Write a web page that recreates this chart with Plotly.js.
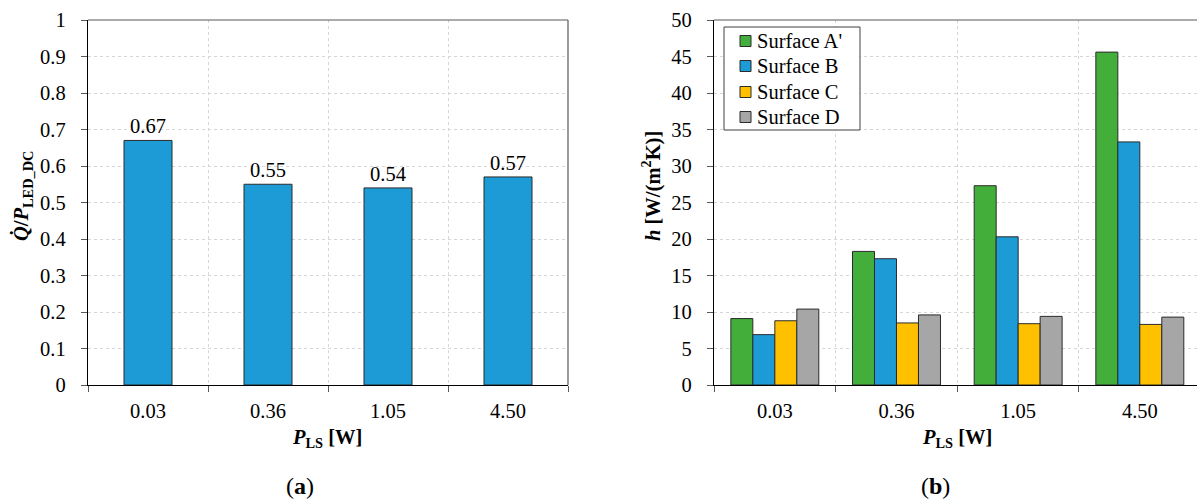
<!DOCTYPE html>
<html>
<head>
<meta charset="utf-8">
<script src="https://cdn.plot.ly/plotly-3.0.1.min.js"></script>
<style>
  html, body { margin: 0; padding: 0; background: #ffffff; }
  #chart { width: 1197px; height: 503px; }
</style>
</head>
<body>
<div id="chart"></div>
<script>
// Source power levels (shared category axis of both panels)
const categories = ['0.03', '0.36', '1.05', '4.50'];

// Panel (a): heat-to-LED power ratio
const heatRatio = [0.67, 0.55, 0.54, 0.57];

// Panel (b): heat transfer coefficient per surface, W/(m²K)
const surfaceA = [9.1, 18.3, 27.3, 45.6];
const surfaceB = [6.9, 17.3, 20.3, 33.3];
const surfaceC = [8.8, 8.5, 8.4, 8.3];
const surfaceD = [10.4, 9.6, 9.4, 9.3];

const seriesNames = ["Surface A'", 'Surface B', 'Surface C', 'Surface D'];

const W = 1197, H = 503;
const px = v => v / W;
const py = v => 1 - v / H;

const FONT = '"Liberation Serif", "Times New Roman", Times, serif';
const fs = 20.5;
const barLine = { color: '#2b2b2b', width: 1 };
const colors = ['#43AE3A', '#1C9BD6', '#FFC000', '#A6A6A6'];

const traces = [
  {
    type: 'bar', x: categories, y: heatRatio, xaxis: 'x', yaxis: 'y',
    width: 0.4,
    marker: { color: '#1C9BD6', line: barLine },
    text: heatRatio.map(v => v.toFixed(2)), textposition: 'outside',
    textfont: { family: FONT, size: fs, color: '#000' },
    cliponaxis: false, showlegend: false, hoverinfo: 'skip'
  }
];
[surfaceA, surfaceB, surfaceC, surfaceD].forEach((vals, i) => {
  traces.push({
    type: 'bar', x: categories, y: vals, xaxis: 'x2', yaxis: 'y2',
    name: seriesNames[i], showlegend: false,
    marker: { color: colors[i], line: barLine },
    hoverinfo: 'skip'
  });
});

const yDom = [(H - 385) / H, (H - 20) / H];

const xCommon = {
  type: 'category', tickson: 'boundaries', ticks: 'outside', ticklen: 6,
  tickcolor: '#595959', tickwidth: 1, ticklabelstandoff: 7,
  showline: true, linecolor: '#000', linewidth: 1.2,
  showgrid: true, gridcolor: '#d6d6d6', griddash: '3px,3px', gridwidth: 1,
  tickfont: { family: FONT, size: fs, color: '#000' },
  fixedrange: true, automargin: false, zeroline: false
};
const yCommon = {
  ticks: 'outside', ticklen: 6, tickcolor: '#595959', tickwidth: 1, ticklabelstandoff: 11,
  showline: true, linecolor: '#000', linewidth: 1.2,
  showgrid: true, gridcolor: '#d6d6d6', griddash: '3px,3px', gridwidth: 1,
  zeroline: false, tickfont: { family: FONT, size: fs, color: '#000' },
  fixedrange: true, automargin: false
};

const frame = { color: '#595959', width: 1.2 };

// Legend box for panel (b): swatch + label per surface
const legendBox = { x0: 724, x1: 860, y0: 27, y1: 130 };
const legendRows = [41, 66, 92, 117];
const legendShapes = [
  { type: 'rect', xref: 'paper', yref: 'paper',
    x0: px(legendBox.x0), x1: px(legendBox.x1), y0: py(legendBox.y0), y1: py(legendBox.y1),
    fillcolor: '#ffffff', line: { color: '#404040', width: 1 } }
];
const legendLabels = [];
seriesNames.forEach((name, i) => {
  const cy = legendRows[i];
  legendShapes.push({
    type: 'rect', xref: 'paper', yref: 'paper',
    x0: px(740), x1: px(751), y0: py(cy - 5.5), y1: py(cy + 5.5),
    fillcolor: colors[i], line: { color: '#2b2b2b', width: 1 }
  });
  legendLabels.push({
    text: name, xref: 'paper', yref: 'paper', x: px(755), y: py(cy),
    xanchor: 'left', yanchor: 'middle', showarrow: false,
    font: { family: FONT, size: fs, color: '#000' }
  });
});

const layout = {
  width: W, height: H,
  margin: { l: 0, r: 0, t: 0, b: 0, pad: 0 },
  paper_bgcolor: '#ffffff', plot_bgcolor: '#ffffff',
  barmode: 'group', bargap: 0.277, bargroupgap: 0,
  showlegend: false,
  font: { family: FONT, size: fs, color: '#000' },
  xaxis: Object.assign({}, xCommon, { domain: [px(88), px(568)], anchor: 'y', range: [-0.5, 3.5] }),
  yaxis: Object.assign({}, yCommon, { domain: yDom, anchor: 'x', range: [0, 1], dtick: 0.1 }),
  xaxis2: Object.assign({}, xCommon, { domain: [px(714), 1], anchor: 'y2', range: [-0.5, 3.47] }),
  yaxis2: Object.assign({}, yCommon, { domain: yDom, anchor: 'x2', range: [0, 50], dtick: 5 }),
  shapes: [
    { type: 'line', xref: 'x domain', yref: 'y domain', x0: 0, x1: 1, y0: 1, y1: 1, line: frame },
    { type: 'line', xref: 'x domain', yref: 'y domain', x0: 1, x1: 1, y0: 0, y1: 1, line: frame },
    { type: 'line', xref: 'x2 domain', yref: 'y2 domain', x0: 0, x1: 1, y0: 1, y1: 1, line: frame }
  ].concat(legendShapes),
  annotations: [
    { text: '<b><i>Q\u0307</i>/<i>P</i><sub>LED_DC</sub></b>', textangle: -90,
      xref: 'paper', yref: 'paper', x: px(22), y: py(196), xanchor: 'center', yanchor: 'middle',
      showarrow: false, font: { family: FONT, size: fs, color: '#000' } },
    { text: '<b><i>h</i> [W/(m<sup>2</sup>K)]</b>', textangle: -90,
      xref: 'paper', yref: 'paper', x: px(651), y: py(186), xanchor: 'center', yanchor: 'middle',
      showarrow: false, font: { family: FONT, size: fs, color: '#000' } },
    { text: '<b><i>P</i><sub>LS</sub> [W]</b>',
      xref: 'paper', yref: 'paper', x: px(327), y: py(438), xanchor: 'center', yanchor: 'middle',
      showarrow: false, font: { family: FONT, size: fs, color: '#000' } },
    { text: '<b><i>P</i><sub>LS</sub> [W]</b>',
      xref: 'paper', yref: 'paper', x: px(957), y: py(438), xanchor: 'center', yanchor: 'middle',
      showarrow: false, font: { family: FONT, size: fs, color: '#000' } },
    { text: '(<b>a</b>)',
      xref: 'paper', yref: 'paper', x: px(300), y: py(486), xanchor: 'center', yanchor: 'middle',
      showarrow: false, font: { family: FONT, size: 24, color: '#000' } },
    { text: '(<b>b</b>)',
      xref: 'paper', yref: 'paper', x: px(935), y: py(486), xanchor: 'center', yanchor: 'middle',
      showarrow: false, font: { family: FONT, size: 24, color: '#000' } }
  ].concat(legendLabels)
};

Plotly.newPlot('chart', traces, layout, { staticPlot: true, displayModeBar: false });
</script>
</body>
</html>
